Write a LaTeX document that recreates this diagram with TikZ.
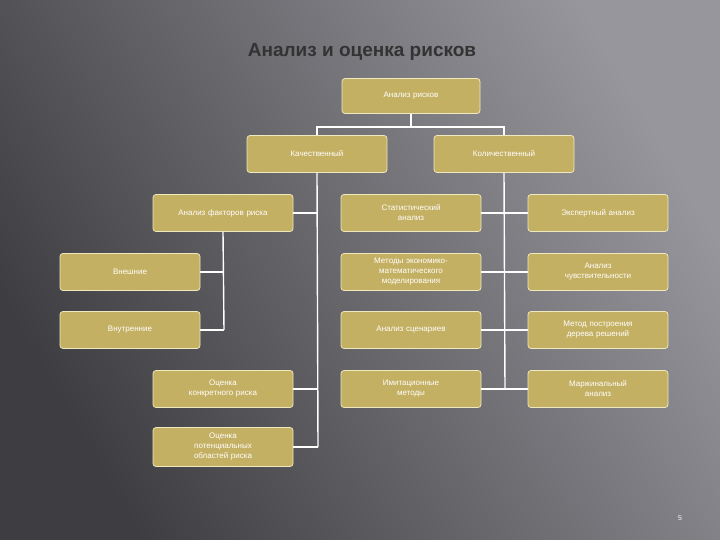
\documentclass[tikz,border=0pt]{standalone}
\usepackage{fontspec}
\setmainfont{Liberation Sans}
\usetikzlibrary{positioning,shadows}
\definecolor{boxfill}{RGB}{196,176,98}
\definecolor{boxline}{RGB}{240,232,190}
\definecolor{bgdark}{RGB}{62,62,66}
\definecolor{bglight}{RGB}{150,150,156}

\begin{document}
\begin{tikzpicture}[x=1pt,y=-1pt,
   block/.style={draw=boxline, line width=0.8pt, fill=boxfill, rounded corners=3pt,
      minimum width=140pt, minimum height=37pt, text width=128pt, align=center,
      text=white, font=\fontsize{8}{10}\selectfont, inner sep=1pt},
   link/.style={draw=white, line width=1.4pt}]
   \shade[left color=bglight, right color=bgdark, shading angle=-60] (0,0) rectangle (720,540);
   \useasboundingbox (0,0) rectangle (720,540);
   \node (title) at (362,52) [font=\bfseries\fontsize{19}{22}\selectfont, text=black!80] {Анализ и оценка рисков};
   \node (page) at (680,518) [text=white!80, font=\fontsize{7}{8}\selectfont] {5};
   % top levels
   \node (root) at (411,96) [block, minimum width=138pt, minimum height=35pt] {Анализ рисков};
   \node (qual) at (317,154) [block] {Качественный};
   \node (quan) at (504,154) [block] {Количественный};
   % qualitative branch
   \node (fact) at (223,213) [block] {Анализ факторов риска};
   \node (ext) at (130,272) [block] {Внешние};
   \node (int) at (130,330) [block] {Внутренние};
   \node (conc) at (223,389) [block] {Оценка\\конкретного риска};
   \node (pot) at (223,447) [block, minimum height=39pt] {Оценка\\потенциальных\\областей риска};
   % quantitative branch
   \node (stat) at (411,213) [block] {Статистический\\анализ};
   \node (econ) at (411,272) [block] {Методы экономико-\\математического\\моделирования};
   \node (scen) at (411,330) [block] {Анализ сценариев};
   \node (imit) at (411,389) [block] {Имитационные\\методы};
   \node (expt) at (598,213) [block] {Экспертный анализ};
   \node (sens) at (598,272) [block] {Анализ\\чувствительности};
   \node (tree) at (598,330) [block] {Метод построения\\дерева решений};
   \node (marg) at (598,389) [block] {Маржинальный\\анализ};
   % connectors
   \coordinate (fork) at (411,127);
   \draw[link] (root.south) -- (fork);
   \draw[link] (qual.north) |- (fork) -| (quan.north);
   \coordinate (qend) at (318,447);
   \draw[link] (qual.south) -- (qend);
   \foreach \n in {fact,conc,pot} \draw[link] (\n.east) -- (\n.east -| qend);
   \coordinate (fend) at (224,330);
   \draw[link] (fact.south) -- (fend);
   \foreach \n in {ext,int} \draw[link] (\n.east) -- (\n.east -| fend);
   \coordinate (nend) at (505,389);
   \draw[link] (quan.south) -- (nend);
   \foreach \n in {stat,econ,scen,imit} \draw[link] (\n.east) -- (\n.east -| nend);
   \foreach \n in {expt,sens,tree,marg} \draw[link] (\n.west) -- (\n.west -| nend);
\end{tikzpicture}
\end{document}
